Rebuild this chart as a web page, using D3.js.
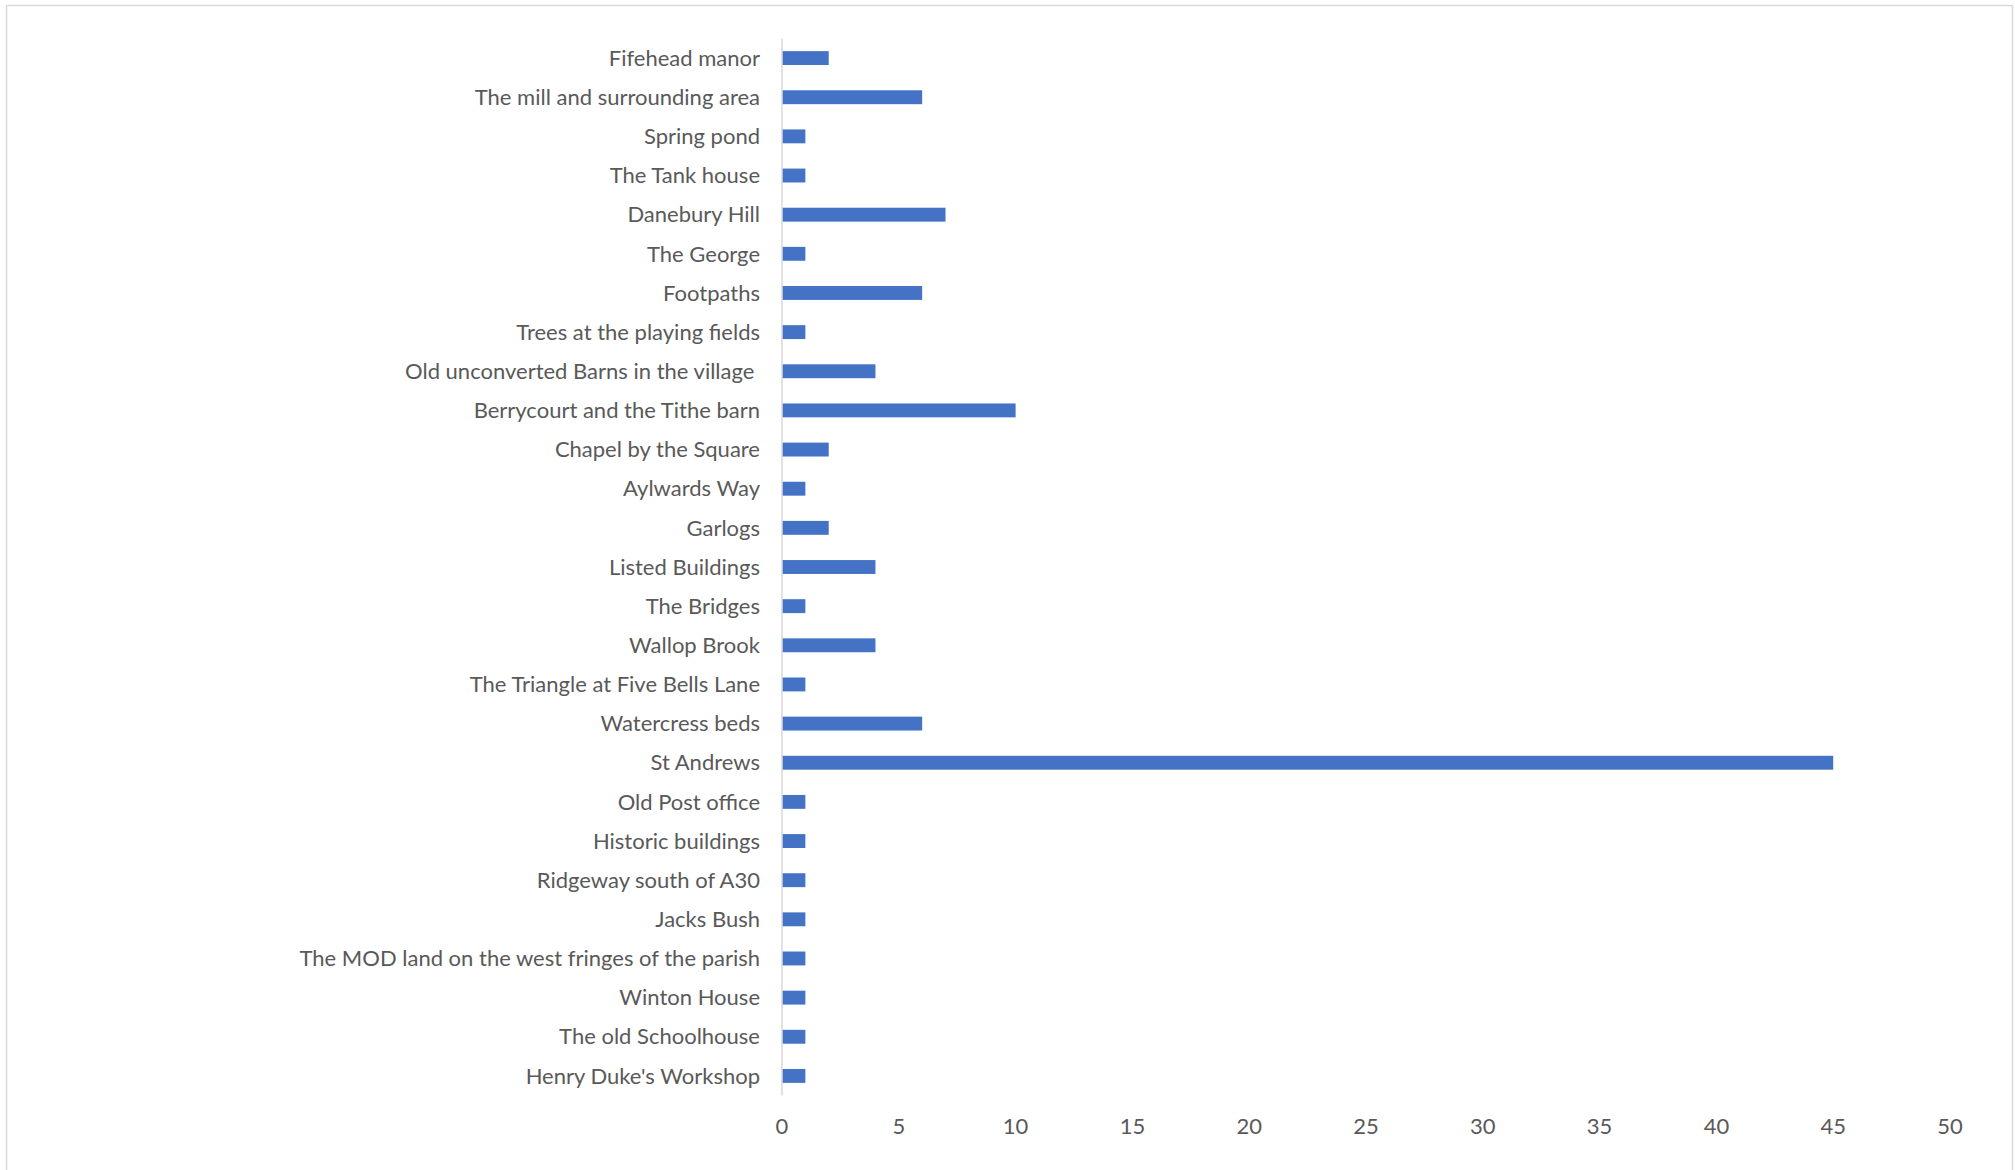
<!DOCTYPE html>
<html><head><meta charset="utf-8">
<script src="https://cdn.jsdelivr.net/npm/d3@7"></script>
<style>html,body{margin:0;padding:0;background:#fff;}svg{display:block;}</style>
</head><body>
<svg id="c" width="2015" height="1170"></svg>
<script>
const categories = ["Fifehead manor","The mill and surrounding area","Spring pond","The Tank house","Danebury Hill","The George","Footpaths","Trees at the playing fields","Old unconverted Barns in the village ","Berrycourt and the Tithe barn","Chapel by the Square","Aylwards Way","Garlogs","Listed Buildings","The Bridges","Wallop Brook","The Triangle at Five Bells Lane","Watercress beds","St Andrews","Old Post office","Historic buildings","Ridgeway south of A30","Jacks Bush","The MOD land on the west fringes of the parish","Winton House","The old Schoolhouse","Henry Duke's Workshop"];
const values = [2,6,1,1,7,1,6,1,4,10,2,1,2,4,1,4,1,6,45,1,1,1,1,1,1,1,1];
const xTicks = [0,5,10,15,20,25,30,35,40,45,50];

const svg = d3.select("#c");
svg.append("rect").attr("x",6.5).attr("y",5.5).attr("width",2006).attr("height",1180)
  .attr("fill","#fff").attr("stroke","#d9d9d9").attr("stroke-width",1.5);

const x = d3.scaleLinear().domain([0,50]).range([782,1950]);
const y = d3.scaleBand().domain(categories).range([38.5,1095.5]).paddingInner(0.645).paddingOuter(0.3225);

svg.selectAll("rect.bar").data(categories).join("rect").attr("class","bar")
  .attr("x",x(0)).attr("y",d=>y(d)).attr("height",y.bandwidth())
  .attr("width",(d,i)=>x(values[i])-x(0)).attr("fill","#4472c4");

svg.append("line").attr("x1",x(0)).attr("x2",x(0)).attr("y1",38.5).attr("y2",1095.5)
  .attr("stroke","#d9d9d9").attr("stroke-width",1.5);

const font = "Lato, 'Open Sans', sans-serif";
svg.selectAll("text.cat").data(categories).join("text").attr("class","cat")
  .attr("x",760).attr("y",d=>y(d)+y.bandwidth()/2).attr("dy","0.35em")
  .attr("text-anchor","end").style("white-space","pre")
  .attr("font-family",font).attr("font-size",22).attr("fill","#595959").text(d=>d);

svg.selectAll("text.tick").data(xTicks).join("text").attr("class","tick")
  .attr("x",d=>x(d)).attr("y",1126).attr("dy","0.35em").attr("text-anchor","middle")
  .attr("font-family",font).attr("font-size",22).attr("fill","#595959").text(d=>d);
</script>
</body></html>
